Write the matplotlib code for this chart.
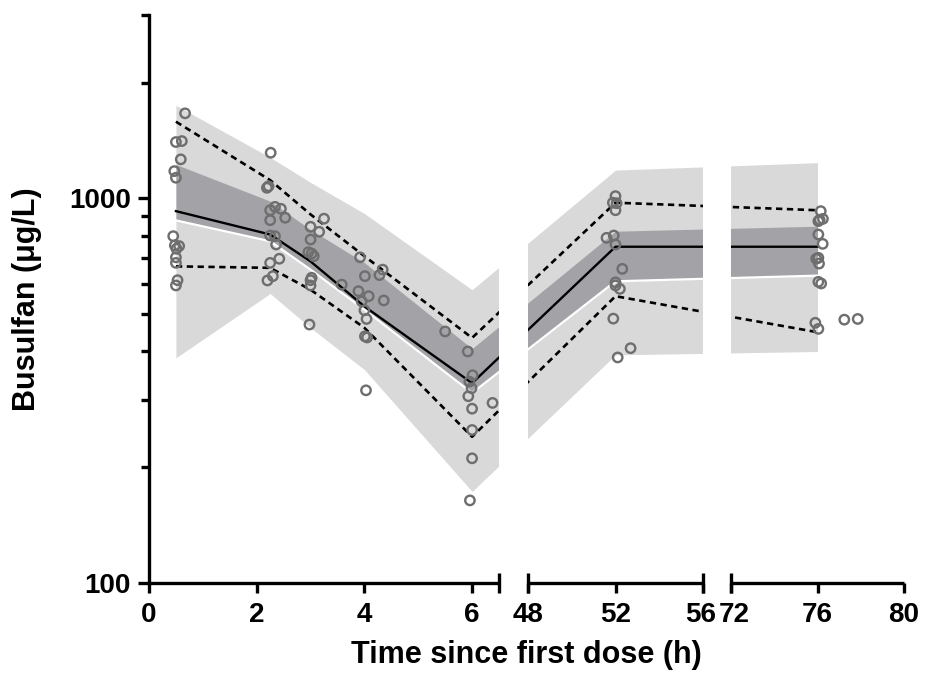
import numpy as np
import matplotlib
matplotlib.use("Agg")
import matplotlib.pyplot as plt
import matplotlib.transforms as mtransforms
from matplotlib.ticker import FixedLocator, NullFormatter

plt.rcParams['font.family'] = ['Liberation Sans', 'DejaVu Sans']
plt.rcParams['font.weight'] = 'bold'

# VPC bins (h) and summary percentiles (ug/L)
bin_time = [0.5, 2.25, 3, 4, 6, 52, 76]
pred_median = [927, 806, 686, 524, 331, 749, 749]
median_ci_lo = [877, 774, 653, 514, 312, 609, 630]
median_ci_hi = [1226, 984, 830, 681, 407, 822, 847]
pred_lo = [385, 566, 461, 359, 173, 392, 400]
pred_hi = [1747, 1279, 1101, 914, 579, 1185, 1239]
obs_p95 = [1584, 1116, 909, 708, 434, 975, 932]
obs_p05 = [666, 660, 579, 461, 240, 557, 449]

# observed concentrations
obs_time = [0.67, 0.5, 0.61, 0.59, 0.47, 0.5, 0.45, 0.48, 0.56, 0.51, 0.5, 0.5, 0.53, 0.5,
            2.26, 2.19, 2.22, 2.34, 2.25, 2.45, 2.53, 2.25, 2.25, 2.34, 2.36, 2.42, 2.25, 2.3, 2.2,
            3.25, 3.0, 3.16, 3.0, 2.96, 3.02, 3.06, 3.02, 3.0, 3.0, 2.98, 3.58,
            3.92, 4.34, 4.28, 4.01, 3.89, 4.08, 3.95, 4.36, 4.0, 4.04, 4.01, 4.05, 4.03,
            5.5, 5.92, 6.01, 5.95, 5.99, 5.93, 6.0, 6.38, 6.0, 6.0, 5.96,
            52.0, 51.88, 52.05, 52.0, 51.59, 51.92, 52.0, 52.31, 52.0, 52.0, 52.2, 51.9, 52.69, 52.1,
            76.15, 76.04, 76.1, 76.25, 76.04, 76.24, 75.94, 76.04, 76.07, 76.04, 76.17, 75.9, 76.04,
            77.24, 77.86]
obs_conc = [1665, 1402, 1410, 1264, 1178, 1132, 798, 755, 752, 740, 703, 680, 613, 594,
            1315, 1066, 1076, 951, 932, 940, 891, 878, 801, 798, 759, 697, 680, 628, 612,
            886, 844, 819, 782, 725, 719, 708, 622, 613, 594, 470, 597,
            703, 653, 632, 628, 574, 557, 540, 543, 512, 486, 438, 435, 317,
            451, 400, 347, 334, 321, 306, 284, 294, 250, 211, 164,
            1014, 975, 972, 932, 790, 801, 759, 656, 605, 594, 582, 487, 408, 386,
            927, 873, 880, 885, 806, 762, 697, 701, 677, 607, 601, 475, 458,
            484, 486]

x_ticks = [0, 2, 4, 6, 48, 52, 56, 72, 76, 80]
x_tick_labels = ['0', '2', '4', '6', '48', '52', '56', '72', '76', '80']

# broken time axis: segments 0-6.5, 48-56, 72-80
brk_t = [0, 6.5, 48, 56, 72, 80]
brk_u = [0, 350, 379, 554, 582, 755]


def fwd(t):
    t = np.asarray(t, dtype=float)
    u = np.interp(t, brk_t, brk_u)
    u = np.where(t < 0, t * 350 / 6.5, u)
    u = np.where(t > 80, 755 + (t - 80) * 173 / 8, u)
    return u


def inv(u):
    u = np.asarray(u, dtype=float)
    t = np.interp(u, brk_u, brk_t)
    t = np.where(u < 0, u * 6.5 / 350, t)
    t = np.where(u > 755, 80 + (u - 755) * 8 / 173, t)
    return t


fig = plt.figure(figsize=(9.25, 6.84), dpi=100)
ax = fig.add_axes([149 / 925, 1 - 583 / 684, 755 / 925, 568 / 684])
ax.set_xscale('function', functions=(fwd, inv))
ax.set_yscale('log')

ax.fill_between(bin_time, pred_lo, pred_hi, color='#d9d9d9', lw=0, zorder=1)
ax.fill_between(bin_time, median_ci_lo, median_ci_hi, color='#a3a3a7', lw=0, zorder=1.5)
ax.plot(bin_time, median_ci_lo, color='white', lw=1.6, zorder=1.6)
ax.plot(bin_time, pred_median, color='black', lw=1.7, zorder=2)
ax.plot(bin_time, obs_p95, color='black', lw=1.9, dashes=(2.4, 1.7), zorder=2)
ax.plot(bin_time, obs_p05, color='black', lw=1.9, dashes=(2.4, 1.7), zorder=2)

# blank the axis breaks
for a, b in [(6.5, 48), (56, 72)]:
    ax.axvspan(a, b, color='white', lw=0, zorder=3)

ax.scatter(obs_time, obs_conc, s=46, facecolors='none', edgecolors='#6e6e6e',
           linewidths=1.7, zorder=4)

ax.set_xlim(0, 80)
ax.set_ylim(100, 3000)

ax.spines['top'].set_visible(False)
ax.spines['right'].set_visible(False)
ax.spines['bottom'].set_visible(False)
ax.spines['left'].set_linewidth(2.4)

xtr = ax.get_xaxis_transform()
for a, b in [(0, 6.5), (48, 56), (72, 80)]:
    ax.plot([a, b], [0, 0], transform=xtr, color='black', lw=2.4,
            solid_capstyle='butt', clip_on=False, zorder=5)
for t in [6.5, 48, 56, 72]:
    ax.plot([t, t], [-0.017, 0.017], transform=xtr, color='black', lw=2.4,
            solid_capstyle='butt', clip_on=False, zorder=5)

ax.set_xticks(x_ticks)
ax.set_xticklabels(x_tick_labels)
ax.xaxis.set_minor_locator(FixedLocator([]))
ax.tick_params(axis='x', direction='out', length=7, width=2.4, pad=7, labelsize=20)

# 56 and 72 sit right next to each other, nudge them apart a little
for lab in ax.get_xticklabels():
    if lab.get_text() == '56':
        lab.set_transform(lab.get_transform() + mtransforms.ScaledTranslation(-2 / 72, 0, fig.dpi_scale_trans))
    elif lab.get_text() == '72':
        lab.set_transform(lab.get_transform() + mtransforms.ScaledTranslation(2 / 72, 0, fig.dpi_scale_trans))

ax.yaxis.set_major_locator(FixedLocator([100, 1000]))
ax.set_yticklabels(['100', '1000'])
ax.yaxis.set_minor_locator(FixedLocator([200, 300, 400, 500, 600, 700, 800, 900, 2000, 3000]))
ax.yaxis.set_minor_formatter(NullFormatter())
ax.tick_params(axis='y', which='major', direction='out', length=8, width=2.4, pad=5, labelsize=20)
ax.tick_params(axis='y', which='minor', direction='out', length=6, width=2.4)

ax.set_xlabel('Time since first dose (h)', fontsize=22, fontweight='bold')
ax.set_ylabel('Busulfan (\u03bcg/L)', fontsize=22, fontweight='bold')
ax.xaxis.set_label_coords(0.5, -0.1)
ax.yaxis.set_label_coords(-0.142, 0.5)

fig.savefig('out.png', dpi=100)
